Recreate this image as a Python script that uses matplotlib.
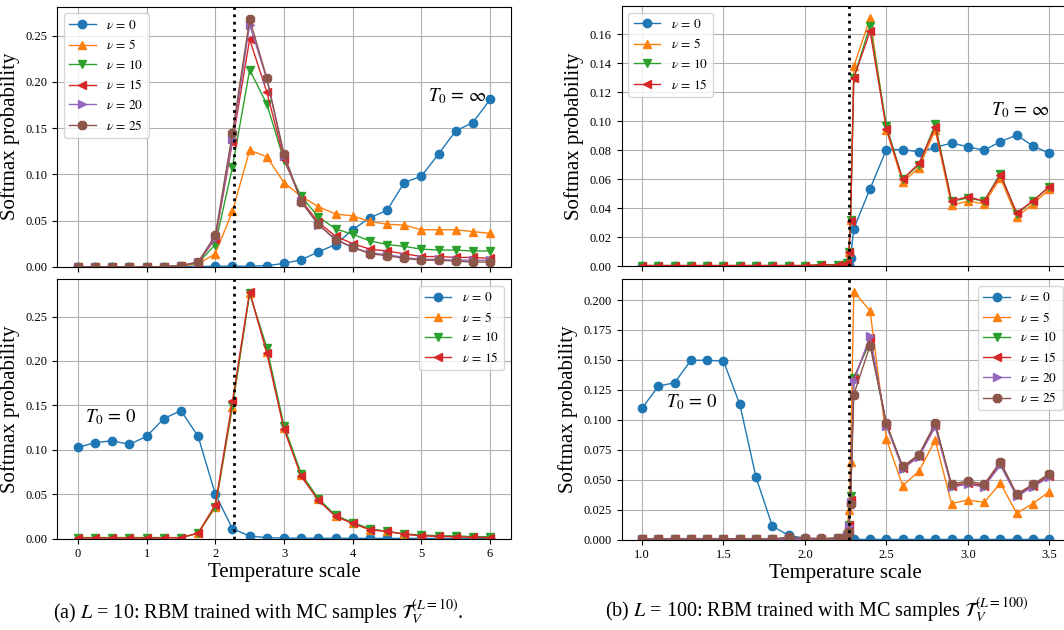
import matplotlib
matplotlib.use("Agg")
import matplotlib.pyplot as plt
import numpy as np

plt.rcParams['font.family'] = 'serif'
plt.rcParams['font.serif'] = ['Liberation Serif', 'DejaVu Serif']
plt.rcParams['mathtext.fontset'] = 'stix'

# DATOS: L = 10 (temperaturas de 0 a 6, paso 0.25)
tempL10 = [0.0, 0.25, 0.5, 0.75, 1.0, 1.25, 1.5, 1.75, 2.0, 2.25, 2.5, 2.75, 3.0,
           3.25, 3.5, 3.75, 4.0, 4.25, 4.5, 4.75, 5.0, 5.25, 5.5, 5.75, 6.0]

# T0 = infinito
infL10_v0 = [0, 0, 0, 0, 0, 0, 0, 0.0002, 0.0005, 0.0005, 0.0005, 0.0012, 0.0035,
             0.0075, 0.016, 0.024, 0.040, 0.053, 0.061, 0.091, 0.098, 0.122, 0.147, 0.156, 0.181]
infL10_v5 = [0, 0, 0, 0, 0, 0, 0.0005, 0.003, 0.014, 0.060, 0.126, 0.119, 0.091,
             0.076, 0.065, 0.057, 0.055, 0.049, 0.046, 0.045, 0.040, 0.040, 0.040, 0.038, 0.036]
infL10_v10 = [0, 0, 0, 0, 0, 0, 0.001, 0.004, 0.024, 0.108, 0.213, 0.176, 0.115,
              0.076, 0.054, 0.041, 0.035, 0.028, 0.024, 0.022, 0.019, 0.018, 0.018, 0.017, 0.017]
infL10_v15 = [0, 0, 0, 0, 0, 0, 0.001, 0.005, 0.030, 0.135, 0.246, 0.189, 0.117,
              0.072, 0.048, 0.033, 0.025, 0.019, 0.017, 0.014, 0.011, 0.011, 0.010, 0.010, 0.009]
infL10_v20 = [0, 0, 0, 0, 0, 0, 0.001, 0.005, 0.031, 0.138, 0.262, 0.203, 0.120,
              0.071, 0.045, 0.030, 0.021, 0.015, 0.013, 0.010, 0.008, 0.008, 0.007, 0.007, 0.007]
infL10_v25 = [0, 0, 0, 0, 0, 0, 0.001, 0.005, 0.034, 0.145, 0.268, 0.204, 0.122,
              0.070, 0.046, 0.029, 0.021, 0.014, 0.012, 0.009, 0.007, 0.007, 0.006, 0.005, 0.005]

# T0 = 0
ceroL10_v0 = [0.1026, 0.108, 0.110, 0.106, 0.115, 0.135, 0.144, 0.115, 0.050, 0.011, 0.0027,
              0.001, 0.0005, 0.0003, 0.0002, 0.0002, 0.0002, 0.0002, 0.0001, 0.0001, 0.0001,
              0.0001, 0.0001, 0.0001, 0.0001]
ceroL10_v5 = [0.001, 0.001, 0.001, 0.001, 0.001, 0.001, 0.001, 0.006, 0.035, 0.148, 0.277,
              0.210, 0.124, 0.071, 0.044, 0.025, 0.017, 0.010, 0.008, 0.005, 0.003, 0.0025,
              0.002, 0.0015, 0.001]
ceroL10_v10 = [0.001, 0.001, 0.001, 0.001, 0.001, 0.001, 0.001, 0.006, 0.036, 0.150, 0.276,
               0.215, 0.127, 0.073, 0.045, 0.026, 0.018, 0.011, 0.008, 0.005, 0.004, 0.003,
               0.003, 0.002, 0.002]
ceroL10_v15 = [0.0005, 0.0005, 0.0005, 0.0005, 0.0005, 0.0005, 0.001, 0.006, 0.038, 0.155, 0.278,
               0.209, 0.123, 0.070, 0.043, 0.025, 0.017, 0.010, 0.008, 0.005, 0.003, 0.0025,
               0.002, 0.0015, 0.001]

# DATOS: L = 100 (paso 0.1 con puntos extra cerca de Tc)
tempL100 = [1.0, 1.1, 1.2, 1.3, 1.4, 1.5, 1.6, 1.7, 1.8, 1.9, 2.0, 2.1, 2.2,
            2.25, 2.26, 2.27, 2.28,
            2.3, 2.4, 2.5, 2.6, 2.7, 2.8, 2.9, 3.0, 3.1, 3.2, 3.3, 3.4, 3.5]

infL100_v0 = [0.0003] * 13 + [0.0003, 0.0005, 0.001, 0.006] + \
    [0.026, 0.0535, 0.0805, 0.0805, 0.079, 0.082, 0.085, 0.0825, 0.080, 0.086, 0.0905, 0.083, 0.078]
infL100_v5 = [0.0005] * 11 + [0.001, 0.001] + [0.001, 0.002, 0.010, 0.032] + \
    [0.138, 0.171, 0.094, 0.058, 0.068, 0.094, 0.042, 0.045, 0.043, 0.061, 0.034, 0.043, 0.053]
infL100_v10 = [0.0005] * 11 + [0.001, 0.001] + [0.001, 0.002, 0.010, 0.032] + \
    [0.130, 0.166, 0.097, 0.060, 0.070, 0.098, 0.045, 0.047, 0.045, 0.064, 0.036, 0.045, 0.055]
infL100_v15 = [0.0005] * 11 + [0.001, 0.001] + [0.001, 0.002, 0.010, 0.031] + \
    [0.130, 0.162, 0.095, 0.060, 0.071, 0.096, 0.045, 0.048, 0.045, 0.063, 0.037, 0.045, 0.055]

ceroL100_v0 = [0.1097, 0.128, 0.131, 0.1497, 0.1497, 0.149, 0.113, 0.0518, 0.0112, 0.0034,
               0.001, 0.0005, 0.0003] + [0.0002] * 4 + [0.0001] * 13
ceroL100_v5 = [0.0003] * 11 + [0.0005, 0.001] + [0.002, 0.010, 0.025, 0.065] + \
    [0.207, 0.191, 0.084, 0.045, 0.057, 0.083, 0.030, 0.033, 0.031, 0.047, 0.022, 0.030, 0.040]
ceroL100_v10 = [0.0003] * 11 + [0.0005, 0.001] + [0.001, 0.004, 0.012, 0.036] + \
    [0.135, 0.165, 0.096, 0.060, 0.070, 0.096, 0.045, 0.047, 0.045, 0.063, 0.037, 0.045, 0.054]
ceroL100_v15 = [0.0003] * 11 + [0.0005, 0.001] + [0.001, 0.004, 0.012, 0.033] + \
    [0.134, 0.168, 0.096, 0.060, 0.070, 0.096, 0.045, 0.047, 0.045, 0.064, 0.037, 0.045, 0.053]
ceroL100_v20 = [0.0003] * 11 + [0.0005, 0.001] + [0.001, 0.004, 0.011, 0.031] + \
    [0.132, 0.170, 0.095, 0.059, 0.069, 0.094, 0.044, 0.046, 0.044, 0.062, 0.036, 0.044, 0.052]
ceroL100_v25 = [0.0005] * 9 + [0.002, 0.001, 0.001, 0.001] + [0.001, 0.003, 0.006, 0.030] + \
    [0.121, 0.162, 0.097, 0.061, 0.071, 0.097, 0.046, 0.049, 0.046, 0.065, 0.038, 0.046, 0.055]

nus = [0, 5, 10, 15, 20, 25]
marcadores = ['o', '^', 'v', '<', '>', '8']
colores = ['tab:blue', 'tab:orange', 'tab:green', 'tab:red', 'tab:purple', 'tab:brown']
Tc = 2.269

W, H = 1064, 630
fig = plt.figure(figsize=(W / 100, H / 100), dpi=100)

def caja(x0, y0, x1, y1):
    # pixel box -> figure fraction
    return [x0 / W, 1 - y1 / H, (x1 - x0) / W, (y1 - y0) / H]

axA1 = fig.add_axes(caja(57.3, 6.7, 510.7, 266.7))
axA2 = fig.add_axes(caja(57.3, 279.3, 510.7, 538.5))
axB1 = fig.add_axes(caja(621.7, 6.0, 1069.6, 266.3))
axB2 = fig.add_axes(caja(621.7, 279.3, 1069.6, 539.5))

def dibujar(ax, temps, series, locLeyenda):
    for i, valores in enumerate(series):
        ax.plot(temps, valores, marker=marcadores[i], color=colores[i], lw=1, ms=6,
                label=r'$\nu\,=\,%d$' % nus[i])
    ax.axvline(Tc, color='k', ls=':', lw=2)
    ax.set_ylim(bottom=0)
    ax.grid(True, color='#b0b0b0', lw=0.8)
    ax.tick_params(labelsize=9)
    ax.set_ylabel('Softmax probability', fontsize=15)
    ax.legend(loc=locLeyenda, fontsize=9.5)

dibujar(axA1, tempL10, [infL10_v0, infL10_v5, infL10_v10, infL10_v15, infL10_v20, infL10_v25], 'upper left')
dibujar(axA2, tempL10, [ceroL10_v0, ceroL10_v5, ceroL10_v10, ceroL10_v15], 'upper right')
dibujar(axB1, tempL100, [infL100_v0, infL100_v5, infL100_v10, infL100_v15], 'upper left')
dibujar(axB2, tempL100, [ceroL100_v0, ceroL100_v5, ceroL100_v10, ceroL100_v15,
                         ceroL100_v20, ceroL100_v25], 'upper right')

axA1.set_xlim(axA2.get_xlim())
axB1.set_xlim(axB2.get_xlim())
axA1.tick_params(labelbottom=False)
axB1.tick_params(labelbottom=False)
axA2.set_xlabel('Temperature scale', fontsize=15, labelpad=2)
axB2.set_xlabel('Temperature scale', fontsize=15, labelpad=2)

axA1.text(5.53, 0.185, r'$T_0\,=\,\infty$', fontsize=13.5, ha='center', va='center')
axA2.text(0.48, 0.1365, r'$T_0\,=\,0$', fontsize=13.5, ha='center', va='center')
axB1.text(3.324, 0.108, r'$T_0\,=\,\infty$', fontsize=13.5, ha='center', va='center')
axB2.text(1.305, 0.1148, r'$T_0\,=\,0$', fontsize=13.5, ha='center', va='center')

# leyendas de las subfiguras
fig.text(258 / W, 1 - 612 / H, r'(a) $L$ = 10: RBM trained with MC samples $\mathcal{T}_V^{(L=10)}$.',
         fontsize=14.5, ha='center', va='center')
fig.text(817 / W, 1 - 610 / H, r'(b) $L$ = 100: RBM trained with MC samples $\mathcal{T}_V^{(L=100)}$',
         fontsize=14.5, ha='center', va='center')

fig.savefig('out.png', dpi=100)
